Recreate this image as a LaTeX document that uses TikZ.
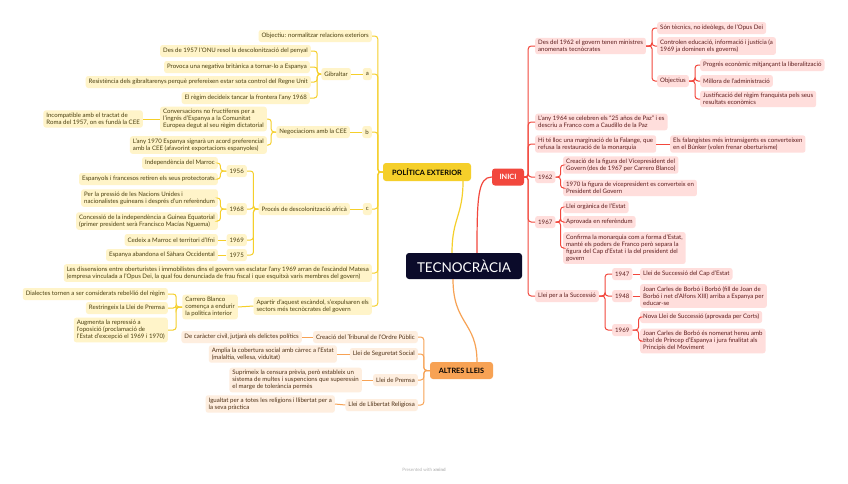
\documentclass[tikz,border=0pt]{standalone}
\usepackage{fontspec}
\setmainfont{Lato}
\usetikzlibrary{calc}

\definecolor{ylw}{HTML}{F5CF2A}
\definecolor{ylwfill}{HTML}{FFF4C9}
\definecolor{ylwtext}{HTML}{4A3F10}
\definecolor{rd}{HTML}{F2473D}
\definecolor{rdfill}{HTML}{FFDEDC}
\definecolor{rdtext}{HTML}{5E1D1D}
\definecolor{org}{HTML}{F7A254}
\definecolor{orgfill}{HTML}{FEEEDF}
\definecolor{orgtext}{HTML}{4F3116}
\definecolor{navy}{HTML}{0B0B2A}

\begin{document}
\begin{tikzpicture}[
    x=1pt, y=-1pt,
    leaf/.style={rounded corners=2.5pt, inner xsep=3pt, inner ysep=2.4pt,
        minimum height=12pt, align=left, font=\fontsize{6.1}{7.1}\selectfont},
    yleaf/.style={leaf, fill=ylwfill, text=ylwtext},
    rleaf/.style={leaf, fill=rdfill, text=rdtext},
    oleaf/.style={leaf, fill=orgfill, text=orgtext},
    topic/.style={rounded corners=3pt, inner sep=2pt, minimum height=17pt,
        font=\fontsize{7.3}{8}\selectfont\bfseries},
    ylink/.style={draw=ylw, line width=1pt, rounded corners=3pt},
    rlink/.style={draw=rd, line width=1pt, rounded corners=3pt},
    olink/.style={draw=org, line width=1pt, rounded corners=3pt}
]
\useasboundingbox (0,0) rectangle (848,483);
\fill[white] (0,0) rectangle (848,483);

% Central topic
\node[fill=navy, text=white, rounded corners=3pt, minimum width=116pt,
    minimum height=26pt, font=\fontsize{13.5}{15}\selectfont] (tec) at (464,266) {TECNOCRÀCIA};

% Main branches
\node[topic, fill=ylw, text=black, minimum width=88pt, minimum height=18pt] (pol) at (427,172) {POLÍTICA EXTERIOR};
\node[topic, fill=rd, text=white, minimum width=32pt] (inici) at (508,177) {INICI};
\node[topic, fill=org, text=black, minimum width=63pt] (alt) at (461.5,370.5) {ALTRES LLEIS};

\draw[ylw, line width=1.2pt] ($(tec.north)+(-12,0)$) .. controls +(0,-35) and +(0,35) .. ($(pol.south)+(36,0)$);
\draw[rd, line width=1.2pt] ($(tec.north)+(13,0)$) .. controls +(0,-55) and +(-14,0) .. (inici.west);
\draw[org, line width=1.2pt] ($(tec.south)+(-11,0)$) .. controls +(0,45) and +(0,-40) .. ($(alt.north)+(15.5,0)$);

% ---------------- Politica exterior ----------------
\node[yleaf, anchor=east] (obj) at (372,36) {Objectiu: normalitzar relacions exteriors};
\node[yleaf, anchor=east] (a) at (372,74) {a};
\node[yleaf, anchor=east] (b) at (372,132) {b};
\node[yleaf, anchor=east] (c) at (372,209) {c};
\node[yleaf, anchor=east] (diss) at (372,273) {Les dissensions entre oberturistes i immobilistes dins el govern van esclatar l'any 1969 arran de l'escàndol Matesa\\(empresa vinculada a l'Opus Dei, la qual fou denunciada de frau fiscal i que esquitxà varis membres del govern)};
\node[yleaf, anchor=east] (apar) at (372,306) {Apartir d'aquest escàndol, s'expulsaren els\\sectors més tecnòcrates del govern};
\foreach \c in {obj,a,b,c,diss,apar}
    \draw[ylink] (pol.west) -- ++(-5,0) |- (\c.east);

% a: Gibraltar
\node[yleaf, anchor=east] (gib) at (351,74) {Gibraltar};
\node[yleaf, anchor=east] (g1) at (311,51) {Des de 1957 l'ONU resol la descolonització del penyal};
\node[yleaf, anchor=east] (g2) at (310,67) {Provoca una negativa britànica a tornar-lo a Espanya};
\node[yleaf, anchor=east] (g3) at (311,82) {Resistència dels gibraltarenys perquè prefereixen estar sota control del Regne Unit};
\node[yleaf, anchor=east] (g4) at (310,98) {El règim decideix tancar la frontera l'any 1968};
\draw[ylink] (a.west) -- (gib.east);
\foreach \c in {g1,g2,g3,g4}
    \draw[ylink] (gib.west) -- ++(-4,0) |- (\c.east);

% b: CEE
\node[yleaf, anchor=east] (cee) at (350,132) {Negociacions amb la CEE};
\node[yleaf, anchor=east] (cee1) at (267,119) {Conversacions no fructíferes per a\\l'ingrés d'Espanya a la Comunitat\\Europea degut al seu règim dictatorial};
\node[yleaf, anchor=east] (cee1a) at (143,119) {Incompatible amb el tractat de\\Roma del 1957, on es fundà la CEE};
\node[yleaf, anchor=east] (cee2) at (267,145) {L'any 1970 Espanya signarà un acord preferencial\\amb la CEE (afavorint exportacions espanyoles)};
\draw[ylink] (b.west) -- (cee.east);
\foreach \c in {cee1,cee2}
    \draw[ylink] (cee.west) -- ++(-5,0) |- (\c.east);
\draw[ylink] (cee1.west) -- (cee1a.east);

% c: descolonitzacio
\node[yleaf, anchor=east] (afr) at (350,209) {Procés de descolonització africà};
\node[yleaf, anchor=east] (y56) at (247,171) {1956};
\node[yleaf, anchor=east] (y68) at (247,209) {1968};
\node[yleaf, anchor=east] (y69) at (247,240) {1969};
\node[yleaf, anchor=east] (y75) at (247,255) {1975};
\draw[ylink] (c.west) -- (afr.east);
\foreach \c in {y56,y68,y69,y75}
    \draw[ylink] (afr.west) -- ++(-5,0) |- (\c.east);
\node[yleaf, anchor=east] (m1) at (218,163) {Independència del Marroc};
\node[yleaf, anchor=east] (m2) at (218,179) {Espanyols i francesos retiren els seus protectorats};
\node[yleaf, anchor=east] (gq1) at (218,198) {Per la pressió de les Nacions Unides i\\nacionalistes guineans i després d'un referèndum};
\node[yleaf, anchor=east] (gq2) at (218,221) {Concessió de la independència a Guinea Equatorial\\(primer president serà Francisco Macías Nguema)};
\node[yleaf, anchor=east] (ifni) at (218,240) {Cedeix a Marroc el territori d'Ifni};
\node[yleaf, anchor=east] (sah) at (218,255) {Espanya abandona el Sàhara Occidental};
\foreach \c in {m1,m2}
    \draw[ylink] (y56.west) -- ++(-6,0) |- (\c.east);
\foreach \c in {gq1,gq2}
    \draw[ylink] (y68.west) -- ++(-6,0) |- (\c.east);
\draw[ylink] (y69.west) -- (ifni.east);
\draw[ylink] (y75.west) -- (sah.east);

% Carrero Blanco
\node[yleaf, anchor=east] (carr) at (238,307) {Carrero Blanco\\comença a endurir\\la política interior};
\node[yleaf, anchor=east] (d1) at (168,294) {Dialectes tornen a ser considerats rebel·lió del règim};
\node[yleaf, anchor=east] (d2) at (168,308) {Restringeix la Llei de Premsa};
\node[yleaf, anchor=east] (d3) at (168,330) {Augmenta la repressió a\\l'oposició (proclamació de\\l'Estat d'excepció el 1969 i 1970)};
\draw[ylink] (apar.west) -- (carr.east);
\foreach \c in {d1,d2,d3}
    \draw[ylink] (carr.west) -- ++(-6,0) |- (\c.east);

% ---------------- Inici ----------------
\node[rleaf, anchor=west] (tec1) at (535,46) {Des del 1962 el govern tenen ministres\\anomenats tecnòcrates};
\node[rleaf, anchor=west] (pau) at (535,122) {L'any 1964 se celebren els “25 años de Paz” i es\\descriu a Franco com a Caudillo de la Paz};
\node[rleaf, anchor=west] (fal) at (535,144) {Hi té lloc una marginació de la Falange, que\\refusa la restauració de la monarquia};
\node[rleaf, anchor=west] (y62) at (535,177) {1962};
\node[rleaf, anchor=west] (y67) at (535,222) {1967};
\node[rleaf, anchor=west] (succ) at (535,296) {Llei per a la Successió};
\foreach \c in {tec1,pau,fal,y62,y67,succ}
    \draw[rlink] (inici.east) -- ++(4,0) |- (\c.west);

% tecnocrates
\node[rleaf, anchor=west] (r1) at (657,28) {Són tècnics, no ideòlegs, de l'Opus Dei};
\node[rleaf, anchor=west] (r2) at (657,46) {Controlen educació, informació i justícia (a\\1969 ja dominen els governs)};
\node[rleaf, anchor=west] (obj2) at (657,81) {Objectius};
\foreach \c in {r1,r2,obj2}
    \draw[rlink] (tec1.east) -- ++(6,0) |- (\c.west);
\node[rleaf, anchor=west] (o1) at (700,65) {Progrés econòmic mitjançant la liberalització};
\node[rleaf, anchor=west] (o2) at (700,81) {Millora de l'administració};
\node[rleaf, anchor=west] (o3) at (700,99) {Justificació del règim franquista pels seus\\resultats econòmics};
\foreach \c in {o1,o2,o3}
    \draw[rlink] (obj2.east) -- ++(6,0) |- (\c.west);

% falange
\node[rleaf, anchor=west] (bunk) at (670,144) {Els falangistes més intransigents es converteixen\\en el Búnker (volen frenar oberturisme)};
\draw[rlink] (fal.east) -- (bunk.west);

% 1962
\node[rleaf, anchor=west] (vp1) at (563,165) {Creació de la figura del Vicepresident del\\Govern (des de 1967 per Carrero Blanco)};
\node[rleaf, anchor=west] (vp2) at (563,188) {1970 la figura de vicepresident es converteix en\\President del Govern};
\foreach \c in {vp1,vp2}
    \draw[rlink] (y62.east) -- ++(5,0) |- (\c.west);

% 1967
\node[rleaf, anchor=west] (lo1) at (563,207) {Llei orgànica de l'Estat};
\node[rleaf, anchor=west] (lo2) at (563,222) {Aprovada en referèndum};
\node[rleaf, anchor=west] (lo3) at (563,248) {Confirma la monarquia com a forma d'Estat,\\manté els poders de Franco però separa la\\figura del Cap d'Estat i la del president del\\govern};
\foreach \c in {lo1,lo2,lo3}
    \draw[rlink] (y67.east) -- ++(5,0) |- (\c.west);

% successio
\node[rleaf, anchor=west] (s47) at (612,274) {1947};
\node[rleaf, anchor=west] (s48) at (612,296) {1948};
\node[rleaf, anchor=west] (s69) at (612,330) {1969};
\foreach \c in {s47,s48,s69}
    \draw[rlink] (succ.east) -- ++(6,0) |- (\c.west);
\node[rleaf, anchor=west] (s47a) at (640,274) {Llei de Successió del Cap d'Estat};
\node[rleaf, anchor=west] (s48a) at (640,296) {Joan Carles de Borbó i Borbó (fill de Joan de\\Borbó i net d'Alfons XIII) arriba a Espanya per\\educar-se};
\node[rleaf, anchor=west] (s69a) at (640,317) {Nova Llei de Successió (aprovada per Corts)};
\node[rleaf, anchor=west] (s69b) at (640,341) {Joan Carles de Borbó és nomenat hereu amb\\títol de Príncep d'Espanya i jura finalitat als\\Principis del Moviment};
\draw[rlink] (s47.east) -- (s47a.west);
\draw[rlink] (s48.east) -- (s48a.west);
\foreach \c in {s69a,s69b}
    \draw[rlink] (s69.east) -- ++(6,0) |- (\c.west);

% ---------------- Altres lleis ----------------
\node[oleaf, anchor=east] (trib) at (418,337) {Creació del Tribunal de l'Ordre Públic};
\node[oleaf, anchor=east] (ss) at (418,354) {Llei de Seguretat Social};
\node[oleaf, anchor=east] (prem) at (418,380) {Llei de Premsa};
\node[oleaf, anchor=east] (rel) at (418,405) {Llei de Llibertat Religiosa};
\foreach \c in {trib,ss,prem,rel}
    \draw[olink] (alt.west) -- ++(-6,0) |- (\c.east);
\node[oleaf, anchor=east] (trib1) at (302,337) {De caràcter civil, jutjarà els delictes polítics};
\node[oleaf, anchor=east] (ss1) at (337,354) {Amplia la cobertura social amb càrrec a l'Estat\\(malaltia, vellesa, viduïtat)};
\node[oleaf, anchor=east] (prem1) at (362,380) {Suprimeix la censura prèvia, però estableix un\\sistema de multes i suspencions que superessin\\el marge de tolerància permès};
\node[oleaf, anchor=east] (rel1) at (335,404) {Igualtat per a totes les religions i llibertat per a\\la seva pràctica};
\draw[olink] (trib.west) -- (trib1.east);
\draw[olink] (ss.west) -- (ss1.east);
\draw[olink] (prem.west) -- (prem1.east);
\draw[olink] (rel.west) -- (rel1.east);

% Footer
\node[text=black!30, font=\fontsize{4.5}{5}\selectfont] (foot) at (424,470) {Presented with \textbf{xmind}};

\end{tikzpicture}
\end{document}
